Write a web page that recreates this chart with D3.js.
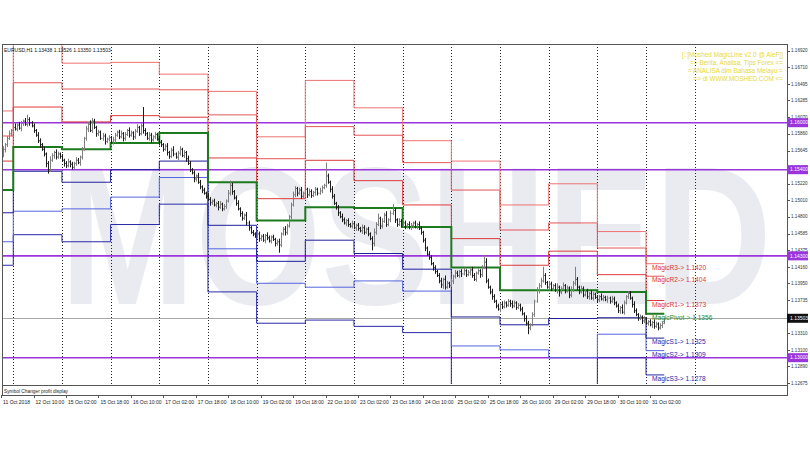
<!DOCTYPE html>
<html><head><meta charset="utf-8">
<script src="https://cdn.jsdelivr.net/npm/d3@7/dist/d3.min.js"></script>
<style>body{margin:0;background:#fff}svg{display:block}text{font-family:"Liberation Sans",Arial,sans-serif}</style>
</head><body><svg id="c" width="810" height="450"></svg>
<script>
// ---------- DATA ----------
const symbolHeader = "EURUSD,H1  1.13438 1.13526 1.13350 1.13503";
const firstOpen = 1.1552;
// hourly closes, bar 0 = 11 Oct 18:00
const closes = [
1.1558,1.1566,1.1572,1.1580,1.1586,1.1590,1.1594,1.1592,
1.1597,1.1593,1.1599,1.1602,1.1598,1.1604,1.1600,1.1596,
1.1590,1.1584,1.1577,1.1572,1.1566,1.1560,1.1548,1.1540,
1.1552,1.1558,1.1562,1.1556,1.1560,1.1557,1.1552,1.1548,
1.1545,1.1550,1.1547,1.1543,1.1548,1.1552,1.1549,1.1556,
1.1566,1.1580,1.1592,1.1598,1.1590,1.1602,1.1594,1.1586,
1.1588,1.1580,1.1583,1.1576,1.1579,1.1581,1.1575,1.1578,
1.1584,1.1588,1.1582,1.1586,1.1580,1.1585,1.1590,1.1584,
1.1587,1.1582,1.1589,1.1594,1.1586,1.1596,1.1590,1.1586,
1.1580,1.1584,1.1578,1.1582,1.1585,1.1579,1.1575,1.1572,
1.1566,1.1570,1.1562,1.1557,1.1565,1.1560,1.1556,1.1561,
1.1566,1.1558,1.1562,1.1554,1.1548,1.1540,1.1536,1.1528,
1.1532,1.1524,1.1518,1.1514,1.1510,1.1506,1.1502,1.1498,
1.1500,1.1495,1.1497,1.1492,1.1496,1.1490,1.1493,1.1500,
1.1510,1.1520,1.1512,1.1504,1.1497,1.1490,1.1484,1.1478,
1.1482,1.1472,1.1466,1.1460,1.1458,1.1455,1.1458,1.1452,
1.1455,1.1450,1.1456,1.1453,1.1449,1.1454,1.1451,1.1446,
1.1448,1.1444,1.1458,1.1464,1.1460,1.1468,1.1480,1.1495,
1.1508,1.1516,1.1510,1.1514,1.1506,1.1510,1.1515,1.1508,
1.1512,1.1507,1.1511,1.1515,1.1510,1.1513,1.1517,1.1520,
1.1532,1.1524,1.1515,1.1506,1.1497,1.1492,1.1485,1.1480,
1.1476,1.1472,1.1475,1.1470,1.1468,1.1471,1.1466,1.1469,
1.1465,1.1462,1.1466,1.1460,1.1464,1.1458,1.1452,1.1446,
1.1460,1.1470,1.1478,1.1468,1.1474,1.1482,1.1470,1.1476,
1.1484,1.1488,1.1476,1.1470,1.1474,1.1469,1.1472,1.1468,
1.1470,1.1466,1.1469,1.1472,1.1467,1.1470,1.1465,1.1460,
1.1450,1.1440,1.1432,1.1428,1.1420,1.1415,1.1410,1.1405,
1.1398,1.1393,1.1400,1.1390,1.1395,1.1392,1.1398,1.1404,
1.1408,1.1405,1.1410,1.1407,1.1411,1.1406,1.1409,1.1412,
1.1405,1.1400,1.1408,1.1411,1.1406,1.1415,1.1422,1.1398,
1.1390,1.1384,1.1378,1.1372,1.1366,1.1362,1.1368,1.1365,
1.1370,1.1367,1.1372,1.1369,1.1366,1.1370,1.1364,1.1367,
1.1362,1.1356,1.1350,1.1344,1.1338,1.1342,1.1355,1.1372,
1.1386,1.1392,1.1398,1.1405,1.1396,1.1390,1.1394,1.1388,
1.1392,1.1386,1.1390,1.1384,1.1388,1.1392,1.1385,1.1389,
1.1380,1.1386,1.1395,1.1400,1.1390,1.1384,1.1388,1.1380,
1.1385,1.1378,1.1382,1.1376,1.1381,1.1377,1.1374,1.1378,
1.1375,1.1377,1.1374,1.1376,1.1372,1.1375,1.1370,1.1366,
1.1360,1.1364,1.1358,1.1370,1.1378,1.1382,1.1376,1.1368,
1.1360,1.1355,1.1350,1.1352,1.1347,1.1349,1.1344,1.1346,
1.1342,1.1345,1.1340,1.1343,1.1338,1.1341,1.13438,1.13503
];
// upper / lower wick beyond the bar body, in pips
const wickUp = [
3,4,2,3,4,2,3,5,2,4,3,2,4,6,3,2,
3,2,4,3,2,3,2,3,5,3,2,4,3,2,3,2,
3,4,2,3,2,4,3,2,3,2,4,3,5,4,3,2,
3,2,4,3,2,3,2,4,3,2,3,4,2,3,2,4,
3,2,3,4,2,3,24,3,2,4,3,2,3,2,4,3,
2,3,4,2,3,5,2,3,4,2,3,2,4,3,2,3,
2,4,3,2,3,2,4,3,2,3,2,3,4,2,3,2,
4,6,3,2,3,4,2,3,2,4,3,2,3,2,4,3,
2,3,2,4,3,2,3,2,3,4,2,3,4,3,2,3,
4,3,2,3,4,2,3,2,4,3,2,3,2,4,3,2,
17,3,2,4,3,2,3,2,4,3,2,3,2,4,3,2,
3,2,4,3,2,3,2,3,5,3,6,2,4,3,5,2,
4,8,3,2,4,3,2,3,2,4,3,2,3,2,4,3,
2,3,2,4,3,2,3,2,3,4,2,5,3,2,3,2,
4,3,2,3,4,2,3,2,4,3,2,3,2,3,9,5,
3,2,4,3,2,3,2,4,3,2,3,2,4,3,2,3,
2,3,2,4,3,2,3,2,4,3,4,11,3,2,4,3,
2,3,5,2,3,4,2,3,2,5,3,16,3,2,4,3,
2,3,2,4,3,2,3,2,4,3,2,3,2,4,3,2,
3,2,4,3,2,3,3,2,4,3,2,3,2,4,3,2,
3,2,4,3,2,3,2,0.2
];
const wickDn = [
3,2,4,3,2,3,4,2,3,2,4,3,2,3,4,2,
3,2,3,4,2,3,5,5,3,2,4,3,2,3,2,4,
3,2,4,3,2,3,2,4,3,2,3,4,2,3,2,4,
3,2,3,4,2,3,2,3,4,2,3,2,4,3,2,3,
2,4,3,2,3,2,4,3,2,3,4,2,3,2,4,3,
3,2,4,3,2,3,2,4,3,2,3,4,2,3,2,4,
3,2,3,4,2,3,2,4,3,2,3,4,2,3,2,3,
2,3,4,2,3,2,4,3,2,3,4,2,3,2,3,4,
3,2,4,3,2,3,2,4,3,10,3,2,4,3,2,3,
2,3,4,2,3,2,3,4,2,3,2,4,3,2,3,2,
3,2,4,3,2,3,4,2,3,2,4,3,2,3,2,4,
3,2,4,3,2,3,2,9,4,3,2,4,3,2,3,2,
3,2,4,3,2,3,2,4,3,2,3,4,2,3,2,3,
3,4,2,3,2,4,3,2,3,4,5,3,2,3,2,4,
3,2,3,4,2,3,2,4,3,2,3,2,4,3,2,3,
2,3,4,2,3,2,4,3,2,3,2,4,3,2,3,2,
3,2,4,3,8,3,2,3,2,4,3,2,3,2,4,3,
3,2,4,6,3,2,3,2,4,3,2,3,4,3,2,3,
2,3,4,2,3,2,4,3,2,3,2,4,3,2,3,2,
3,4,2,3,2,3,2,4,3,2,3,2,4,3,2,3,
2,4,3,2,3,2,3,0.9
];
// bar index where each daily pivot period starts (11,12,15..19,22..26,29,30,31 Oct)
const dayStarts = [0,6,30,54,78,102,126,150,174,198,222,246,270,294,318];
const nextDayStart = 342; // 1 Nov separator
const levelR3 = [1.1615,1.1702,1.1676,1.1677,1.1662,1.1640,1.1582,1.1654,1.1619,1.1577,1.1551,1.1495,1.1522,1.1461,1.1420];
const levelR2 = [1.1583,1.1651,1.1643,1.1643,1.1642,1.1610,1.1554,1.1595,1.1584,1.1549,1.1514,1.1463,1.1472,1.1440,1.1404];
const levelR1 = [1.1551,1.1620,1.1601,1.1609,1.1607,1.1555,1.1503,1.1552,1.1526,1.1495,1.1452,1.1418,1.1436,1.1406,1.1373];
const levelP  = [1.1514,1.1569,1.1566,1.1574,1.1587,1.1524,1.1475,1.1492,1.1491,1.1467,1.1415,1.1386,1.1386,1.1384,1.1356];
const levelS1 = [1.1485,1.1538,1.1524,1.1540,1.1551,1.1469,1.1423,1.1450,1.1433,1.1413,1.1352,1.1342,1.1350,1.1351,1.1325];
const levelS2 = [1.1448,1.1487,1.1490,1.1505,1.1530,1.1439,1.1395,1.1390,1.1398,1.1385,1.1315,1.1310,1.1300,1.1330,1.1309];
const levelS3 = [1.1418,1.1457,1.1448,1.1470,1.1496,1.1384,1.1344,1.1348,1.1340,1.1332,1.1252,1.1265,1.1264,1.1300,1.1278];
const roundLevels = [1.16000,1.15400,1.14300,1.13000];
const lastPrice = 1.13503;
const yTicks = [1.16920,1.16710,1.16495,1.16285,1.16070,1.15860,1.15645,1.15435,1.15220,1.15010,1.14800,1.14585,1.14375,1.14160,1.13950,1.13735,1.13525,1.13310,1.13100,1.12890,1.12675];
const xTickLabels = ["11 Oct 2018","12 Oct 10:00","15 Oct 02:00","15 Oct 18:00","16 Oct 10:00","17 Oct 02:00","17 Oct 18:00","18 Oct 10:00","19 Oct 02:00","19 Oct 18:00","22 Oct 10:00","23 Oct 02:00","23 Oct 18:00","24 Oct 10:00","25 Oct 02:00","25 Oct 18:00","26 Oct 10:00","29 Oct 02:00","29 Oct 18:00","30 Oct 10:00","31 Oct 02:00"];
const xTickStep = 16;
const infoLines = ["[::]Moshed MagicLine v2.0 @ AleF[]","=> Berita, Analisa, Tips Forex <=","= ANALISA dlm Bahasa Melayu =","=> di WWW.MOSHED.COM <="];
const watermark = "MOSHED";
const subWindowTitle = "Symbol Changer profit display";

// ---------- LAYOUT ----------
const L = 2, R = 787, T = 44, MB = 384, B = 395;
const svg = d3.select("#c");
const x = d3.scaleLinear().domain([0, nextDayStart]).range([1.1, 694.7]);
const y = d3.scaleLinear().domain([1.126641, 1.170047]).range([MB, T]);
const lastBar = closes.length - 1;
const px = v => Math.round(v) + 0.5;

svg.append("defs").append("clipPath").attr("id","main").append("rect")
  .attr("x",L).attr("y",T).attr("width",R-L).attr("height",MB-T);

// watermark
svg.append("text").attr("x",60).attr("y",304).attr("font-size",196).attr("font-weight","bold")
  .attr("fill","#e9ebf1").attr("textLength",712).attr("lengthAdjust","spacingAndGlyphs")
  .text(watermark);

const g = svg.append("g").attr("clip-path","url(#main)");

// day separators
g.selectAll("line.sep").data(dayStarts.slice(1).concat([nextDayStart])).join("line")
  .attr("x1",d=>px(x(d))).attr("x2",d=>px(x(d))).attr("y1",T).attr("y2",MB)
  .attr("stroke","#222").attr("stroke-width",1).attr("stroke-dasharray","1,2");

// round-number levels
g.selectAll("line.rl").data(roundLevels).join("line")
  .attr("x1",L).attr("x2",R).attr("y1",d=>y(d)).attr("y2",d=>y(d))
  .attr("stroke","#9a35dc").attr("stroke-width",1.6);

// last price line
g.append("line").attr("x1",L).attr("x2",R).attr("y1",px(y(lastPrice))).attr("y2",px(y(lastPrice)))
  .attr("stroke","#a8a8a8").attr("stroke-width",1);

// pivot levels
const levels = [
  {v:levelS3,c:"#2a2aa8",w:1,n:"MagicS3",tc:"#2828b0"},
  {v:levelS2,c:"#5565e0",w:1,n:"MagicS2",tc:"#2828b0"},
  {v:levelS1,c:"#1f1f9c",w:1,n:"MagicS1",tc:"#2828b0"},
  {v:levelR3,c:"#ee7272",w:1,n:"MagicR3",tc:"#e03535"},
  {v:levelR2,c:"#e45555",w:1,n:"MagicR2",tc:"#e03535"},
  {v:levelR1,c:"#dc3b3b",w:1,n:"MagicR1",tc:"#e03535"},
  {v:levelP, c:"#1e7a1e",w:2,n:"MagicPivot",tc:"#2a8a2a"}
];
const stepLine = d3.line().x(d=>x(d[0])).y(d=>y(d[1])).curve(d3.curveStepAfter);
levels.forEach(lv=>{
  const pts = dayStarts.map((s,k)=>[s,lv.v[k]]);
  pts.push([lastBar, lv.v[lv.v.length-1]]);
  g.append("path").attr("d",stepLine(pts)).attr("fill","none")
    .attr("stroke",lv.c).attr("stroke-width",lv.w);
});

// OHLC bars
const bars = closes.map((c,i)=>{
  const o = i ? closes[i-1] : firstOpen;
  return {i,o,c,hi:Math.max(o,c)+wickUp[i]*1e-4, lo:Math.min(o,c)-wickDn[i]*1e-4};
});
g.selectAll("path.bar").data(bars).join("path")
  .attr("d",d=>{const xx=px(x(d.i));return `M${xx},${y(d.hi)}V${y(d.lo)}M${xx-1},${y(d.o)}H${xx}M${xx},${y(d.c)}H${xx+1}`;})
  .attr("stroke",d=>d.c>=d.o?"#7d7d7d":"#1c1c1c").attr("stroke-width",1).attr("fill","none");

// level labels on the current day
levels.forEach(lv=>{
  const val = lv.v[lv.v.length-1];
  svg.append("text").attr("x",652).attr("y",y(val)+6.2).attr("font-size",6.6)
    .attr("fill",lv.tc).text(`${lv.n}-> ${d3.format(".4f")(val)}`);
});

// frame
svg.append("rect").attr("x",L+0.5).attr("y",T+0.5).attr("width",R-L).attr("height",B-T)
  .attr("fill","none").attr("stroke","#555").attr("stroke-width",1);
svg.append("line").attr("x1",L).attr("x2",R).attr("y1",MB+1.5).attr("y2",MB+1.5).attr("stroke","#555");
svg.append("text").attr("x",4).attr("y",392.5).attr("font-size",4.8).attr("fill","#222").text(subWindowTitle);

// header & info
svg.append("text").attr("x",4).attr("y",52).attr("font-size",5).attr("fill","#111").text(symbolHeader);
svg.selectAll("text.info").data(infoLines).join("text")
  .attr("x",783).attr("y",(d,i)=>57+i*8).attr("text-anchor","end").attr("font-size",6.4)
  .attr("fill","#e6d93a").text(d=>d);

// y axis
svg.selectAll("line.yt").data(yTicks).join("line")
  .attr("x1",R).attr("x2",R+3).attr("y1",d=>px(y(d))).attr("y2",d=>px(y(d))).attr("stroke","#555");
svg.selectAll("text.yl").data(yTicks).join("text")
  .attr("x",791).attr("y",d=>y(d)+1.7).attr("font-size",4.6).attr("fill","#333")
  .text(d=>d3.format(".5f")(d));
function axisBox(v,fill){
  const yy=y(v);
  svg.append("rect").attr("x",R).attr("y",yy-4.5).attr("width",21).attr("height",9).attr("fill",fill);
  svg.append("text").attr("x",790).attr("y",yy+1.8).attr("font-size",5).attr("fill","#fff").text(d3.format(".5f")(v));
}
roundLevels.forEach(v=>axisBox(v,"#9a35dc"));
axisBox(lastPrice,"#111");

// x axis
const xt = xTickLabels.map((t,k)=>({t,i:k*xTickStep}));
svg.selectAll("line.xt").data(xt).join("line")
  .attr("x1",d=>px(x(d.i))).attr("x2",d=>px(x(d.i))).attr("y1",B).attr("y2",B+3).attr("stroke","#555");
svg.selectAll("text.xl").data(xt).join("text")
  .attr("x",d=>x(d.i)+2).attr("y",404).attr("font-size",5).attr("fill","#222").text(d=>d.t);
</script></body></html>
